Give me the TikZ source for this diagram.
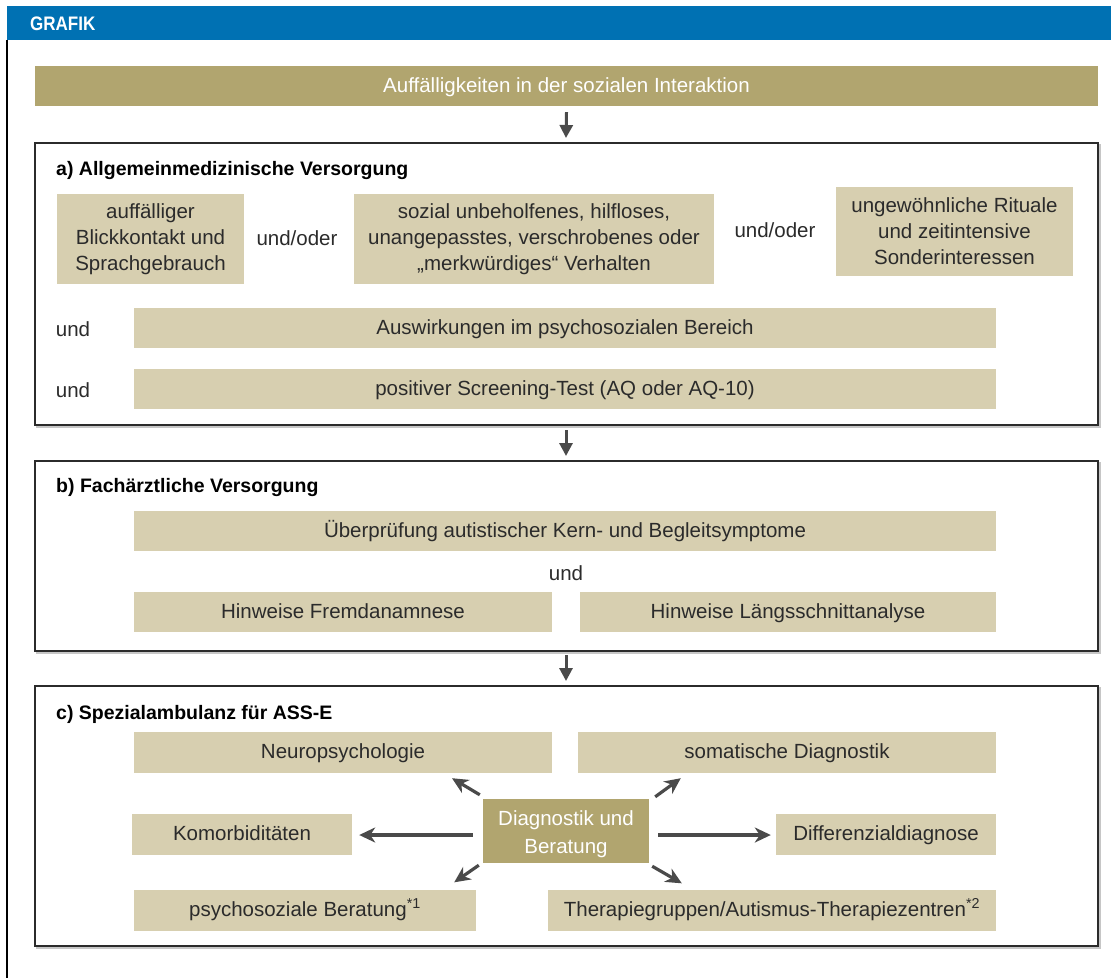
\documentclass[tikz,border=0pt]{standalone}
\usepackage{fontspec}
\setmainfont{Liberation Sans}
\usepackage{tikz}
\usetikzlibrary{arrows.meta,calc}
\definecolor{grafikblue}{HTML}{0071B3}
\definecolor{darktan}{HTML}{B1A56F}
\definecolor{lighttan}{HTML}{D7CFB0}
\definecolor{arrowgrey}{HTML}{4A4A4A}
\definecolor{inkgrey}{HTML}{2B2B2B}
\tikzset{
  lightbox/.style={fill=lighttan,text=inkgrey,inner sep=0pt,align=center,
    font=\fontsize{20.5}{26}\selectfont},
  darkbox/.style={fill=darktan,text=white,inner sep=0pt,align=center,
    font=\fontsize{20.5}{28}\selectfont},
  oneline/.style={text height=14pt,text depth=2pt},
  plaintext/.style={text=inkgrey,inner sep=0pt,font=\fontsize{20.5}{26}\selectfont},
  headline/.style={text=black,inner sep=0pt,anchor=west,
    font=\fontsize{19.5}{22}\selectfont\bfseries},
  section/.style={draw=inkgrey,line width=1.4pt},
  flowarrow/.style={draw=arrowgrey,line width=3pt,-{Triangle[width=13pt,length=13pt]}},
  spoke/.style={draw=arrowgrey,line width=3.2pt,-{Stealth[width=15pt,length=16pt,inset=5pt]}},
}

\begin{document}
\begin{tikzpicture}[x=1pt,y=-1pt]
\useasboundingbox (0,0) rectangle (1111,978);
\fill[white] (0,0) rectangle (1111,978);
\fill[grafikblue] (7,6) rectangle (1111,40);
\node[anchor=west,text=white,inner sep=0pt,font=\fontsize{17}{18}\selectfont\bfseries,yscale=1.15] (grafik) at (30,23.5) {GRAFIK};
\draw[black,line width=2pt] (7,40) -- (7,978);

\node[darkbox,oneline,minimum width=1063,minimum height=40] (interaktion) at (566.5,86) {Auffälligkeiten in der sozialen Interaktion};

\foreach \top/\bot in {143/425, 461/651, 686/946}
{
  \draw[gray!45,line width=1.4pt] (37,\top+2) rectangle (1100,\bot+2);
  \fill[white] (35,\top) rectangle (1098,\bot);
  \draw[section] (35,\top) rectangle (1098,\bot);
}
\coordinate (asec-top) at (566,143);
\coordinate (asec-bot) at (566,425);
\coordinate (bsec-top) at (566,461);
\coordinate (bsec-bot) at (566,651);
\coordinate (csec-top) at (566,686);

\node[headline] (atitle) at (56,170) {a) Allgemeinmedizinische Versorgung};
\node[lightbox,minimum width=187,minimum height=90] (blick) at (150.5,239) {auffälliger\\Blickkontakt und\\Sprachgebrauch};
\node[plaintext] (undoder1) at (297,238) {und/oder};
\node[lightbox,minimum width=360,minimum height=90] (verhalten) at (534,239) {sozial unbeholfenes, hilfloses,\\unangepasstes, verschrobenes oder\\„merkwürdiges“ Verhalten};
\node[plaintext] (undoder2) at (775,230) {und/oder};
\node[lightbox,minimum width=237,minimum height=89] (rituale) at (954.5,231.5) {ungewöhnliche Rituale\\und zeitintensive\\Sonderinteressen};
\node[plaintext] (und1) at (73,329) {und};
\node[lightbox,oneline,minimum width=862,minimum height=40] (auswirkung) at (565,328) {Auswirkungen im psychosozialen Bereich};
\node[plaintext] (und2) at (73,390) {und};
\node[lightbox,oneline,minimum width=862,minimum height=40] (screening) at (565,389) {positiver Screening-Test (AQ oder AQ-10)};

\node[headline] (btitle) at (56,487) {b) Fachärztliche Versorgung};
\node[lightbox,oneline,minimum width=862,minimum height=40] (kern) at (565,531) {Überprüfung autistischer Kern- und Begleitsymptome};
\node[plaintext] (und3) at (566,573) {und};
\node[lightbox,oneline,minimum width=418,minimum height=40] (fremd) at (343,612) {Hinweise Fremdanamnese};
\node[lightbox,oneline,minimum width=416,minimum height=40] (laengs) at (788,612) {Hinweise Längsschnittanalyse};

\node[headline] (ctitle) at (56,714) {c) Spezialambulanz für ASS-E};
\node[lightbox,oneline,minimum width=418,minimum height=41] (neuro) at (343,752.5) {Neuropsychologie};
\node[lightbox,oneline,minimum width=418,minimum height=41] (somatik) at (787,752.5) {somatische Diagnostik};
\node[lightbox,oneline,minimum width=220,minimum height=41] (komorb) at (242,834.5) {Komorbiditäten};
\node[darkbox,minimum width=166,minimum height=64] (diagnostik) at (566,831) {\rule{0pt}{21pt}Diagnostik und\\Beratung};
\node[lightbox,oneline,minimum width=220,minimum height=41] (differenz) at (886,834.5) {Differenzialdiagnose};
\node[lightbox,oneline,minimum width=342,minimum height=41] (beratung) at (305,910) {psychosoziale Beratung\textsuperscript{*1}};
\node[lightbox,oneline,minimum width=448,minimum height=41] (therapie) at (772,910) {Therapiegruppen/Autismus-Therapiezentren\textsuperscript{*2}};

\draw[flowarrow] (interaktion.south) ++(0,6) -- (asec-top |- 0,138);
\draw[flowarrow] (asec-bot) ++(0,5) -- (bsec-top |- 0,456);
\draw[flowarrow] (bsec-bot) ++(0,4) -- (csec-top |- 0,681);

\draw[spoke] ($(diagnostik.north west)+(-3,-4)$) -- ($(neuro.south)+(109,5)$);
\draw[spoke] ($(diagnostik.north east)+(6,-2)$) -- ($(somatik.south west)+(103,5)$);
\draw[spoke] ($(diagnostik.west)+(-10,4)$) -- ($(komorb.east)+(7,0.5)$);
\draw[spoke] ($(diagnostik.east)+(9,4)$) -- ($(differenz.west)+(-5,0.5)$);
\draw[spoke] ($(diagnostik.south west)+(-4,2)$) -- ($(beratung.north east)+(-22,-7)$);
\draw[spoke] ($(diagnostik.south east)+(3,3)$) -- ($(therapie.north west)+(134,-6)$);
\end{tikzpicture}
\end{document}
